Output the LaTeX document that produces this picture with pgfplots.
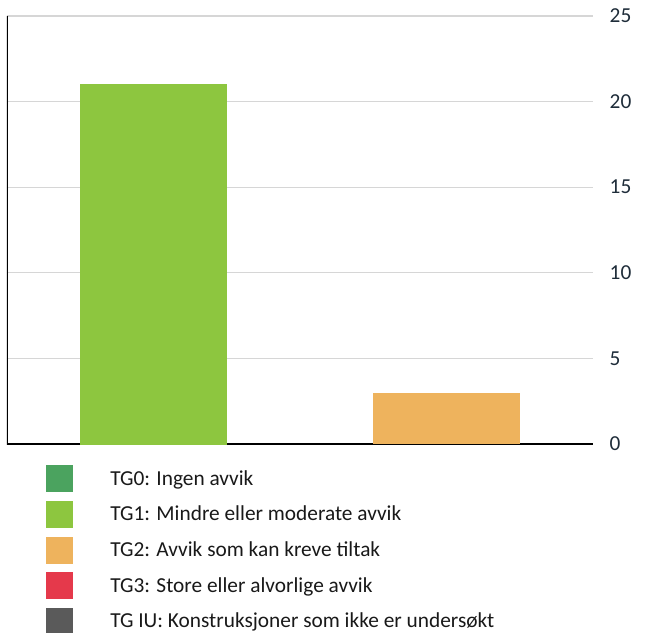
\documentclass[border=0pt]{standalone}
\usepackage{pgfplots}
\pgfplotsset{compat=1.18}
\usepackage{graphicx}
\usepackage{fontspec}
\setmainfont{Carlito}
\definecolor{tgzero}{HTML}{4BA35F}
\definecolor{tgone}{HTML}{8DC63F}
\definecolor{tgtwo}{HTML}{EEB35D}
\definecolor{tgthree}{HTML}{E5394B}
\definecolor{tgiu}{HTML}{5A5A5A}
\definecolor{ticktext}{HTML}{1F2D3A}
\begin{document}
\begin{tikzpicture}
\begin{axis}[
  at={(5.25pt,141pt)}, anchor=south west,
  scale only axis, width=439.5pt, height=321pt,
  xmin=-0.5, xmax=1.5, ymin=0, ymax=25,
  ybar stacked, bar width=0.5,
  xtick=\empty,
  ytick={0,5,10,15,20,25},
  yticklabel pos=right,
  major tick length=0pt,
  yticklabel style={font=\fontsize{16}{19}\selectfont, text=ticktext, anchor=west, xshift=9pt},
  /pgf/number format/assume math mode=true,
  ymajorgrids,
  major grid style={color=black!16, line width=1pt},
  axis line style={draw=none},
  legend style={at={(rel axis cs:0.0666,-0.049)}, anchor=north west, draw=none, fill=none,
    font=\fontsize{16}{19}\selectfont, text=black!90,
    row sep=6.5pt, inner sep=0pt,
    nodes={inner sep=0pt, anchor=west},
    /tikz/every odd column/.append style={column sep=27.75pt}},
  legend cell align=left,
  legend image code/.code={\fill[#1] (0pt,-10.125pt) rectangle (20.25pt,10.125pt);},
]
\addplot[fill=tgzero, draw=none, forget plot] coordinates {(0,0) (1,0)};
\addplot[fill=tgtwo, draw=none, forget plot] coordinates {(0,0) (1,3)};
\addplot[fill=tgone, draw=tgone, line width=0.8pt, forget plot] coordinates {(0,21) (1,0)};
\addplot[fill=tgthree, draw=none, forget plot] coordinates {(0,0) (1,0)};
\addplot[fill=tgiu, draw=none, forget plot] coordinates {(0,0) (1,0)};
\addlegendimage{fill=tgzero, draw=none}
\addlegendimage{fill=tgone, draw=none}
\addlegendimage{fill=tgtwo, draw=none}
\addlegendimage{fill=tgthree, draw=none}
\addlegendimage{fill=tgiu, draw=none}
\legend{TG0: Ingen avvik, TG1: Mindre eller moderate avvik, TG2: Avvik som kan kreve tiltak, TG3: Store eller alvorlige avvik, TG IU: Konstruksjoner som ikke er undersøkt}
\draw[black, line width=1.5pt] (rel axis cs:0,1) -- (rel axis cs:0,0) -- (rel axis cs:1,0);
\node[anchor=center, inner sep=0pt, font=\fontsize{16}{19}\selectfont, text=ticktext] at ([xshift=48pt, yshift=16.5pt]rel axis cs:1,0) {\rotatebox{90}{Antall}};
\end{axis}
\pgfresetboundingbox
\useasboundingbox (0,0) rectangle (503.25pt,474pt);
\end{tikzpicture}
\end{document}
